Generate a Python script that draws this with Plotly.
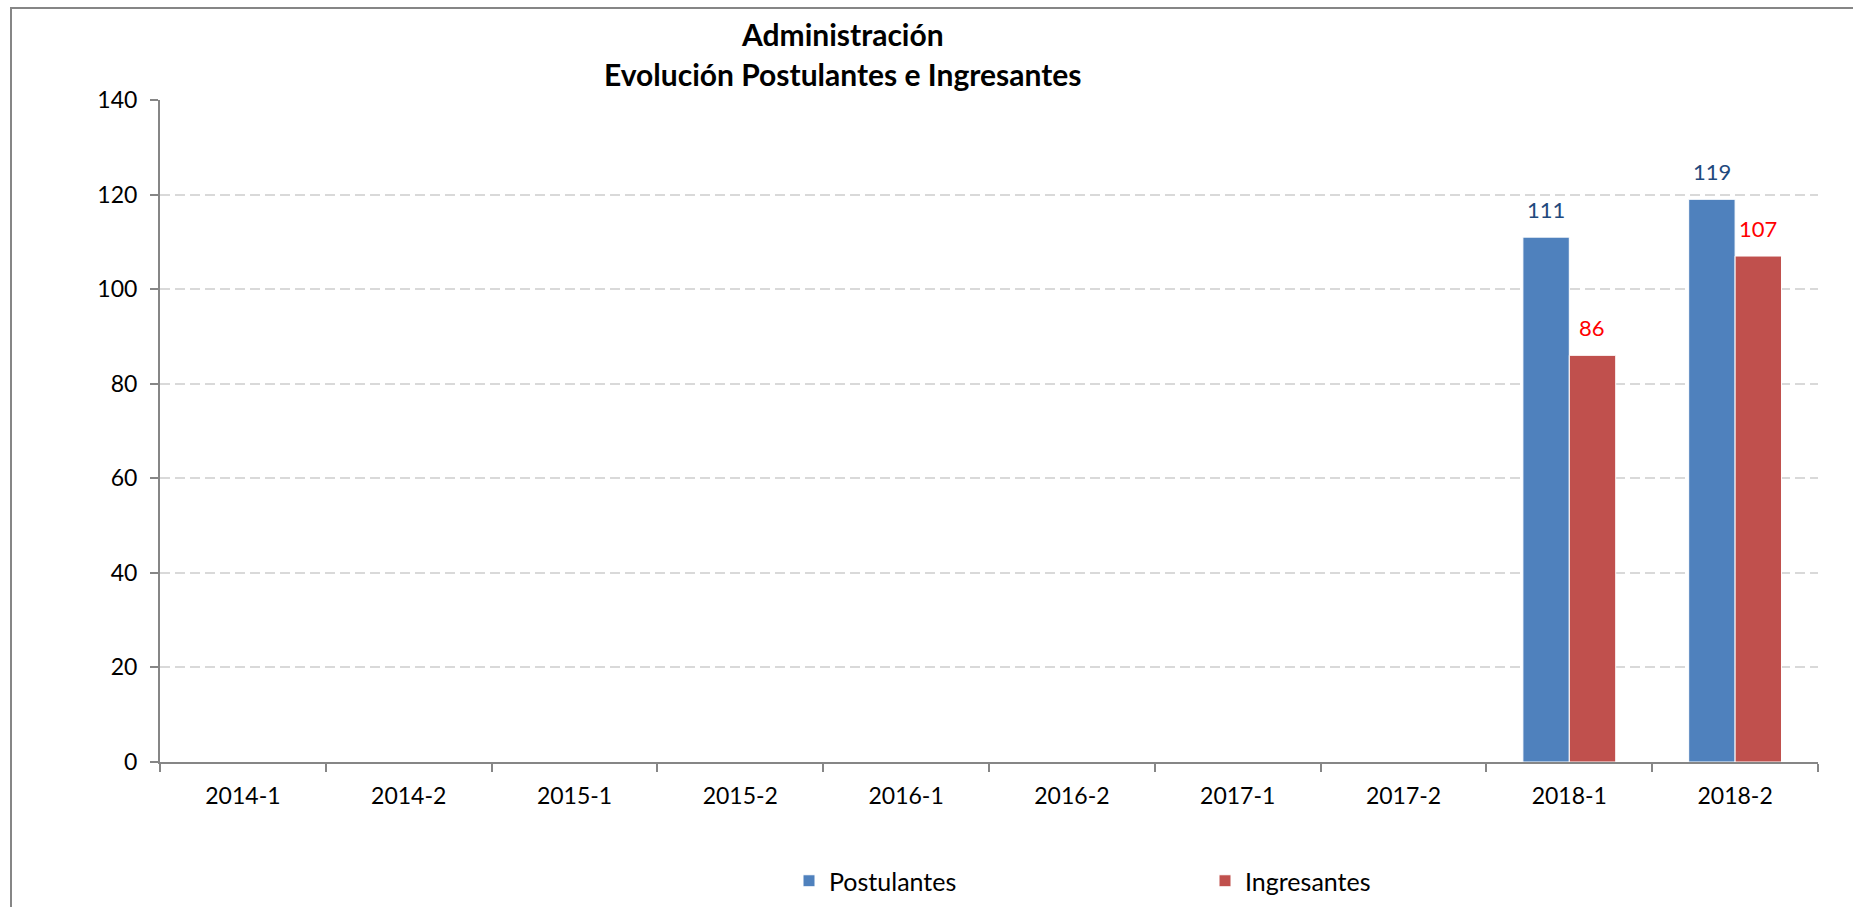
import plotly.graph_objects as go

categories = ["2014-1", "2014-2", "2015-1", "2015-2", "2016-1", "2016-2",
              "2017-1", "2017-2", "2018-1", "2018-2"]
postulantes = [None, None, None, None, None, None, None, None, 111, 119]
ingresantes = [None, None, None, None, None, None, None, None, 86, 107]
title_lines = ["Administración", "Evolución Postulantes e Ingresantes"]

FONT = "Lato"
BLUE = "#4F81BD"
RED = "#C0504D"
AXIS = "#868686"

fig = go.Figure()
fig.add_trace(go.Bar(name="Postulantes", x=categories, y=postulantes,
                     marker=dict(color=BLUE, line=dict(color="white", width=1))))
fig.add_trace(go.Bar(name="Ingresantes", x=categories, y=ingresantes,
                     marker=dict(color=RED, line=dict(color="white", width=1))))

annotations = []
for series, shift, col in ((postulantes, -23, "#1F497D"), (ingresantes, 23, "#FF0000")):
    for c, v in zip(categories, series):
        if v is None:
            continue
        annotations.append(dict(x=c, y=v, xref="x", yref="y", text=str(v),
                                showarrow=False, xshift=shift, yshift=28,
                                yanchor="middle", xanchor="center",
                                font=dict(family=FONT, size=22, color=col)))

annotations.append(dict(text="<b>" + title_lines[0] + "</b>", xref="paper", yref="paper",
                        x=(842 - 160) / 1658, y=(762 - 34) / 662, showarrow=False,
                        xanchor="center", yanchor="middle",
                        font=dict(family=FONT, size=30, color="black")))
annotations.append(dict(text="<b>" + title_lines[1] + "</b>", xref="paper", yref="paper",
                        x=(842 - 160) / 1658, y=(762 - 74) / 662, showarrow=False,
                        xanchor="center", yanchor="middle",
                        font=dict(family=FONT, size=30, color="black")))

fig.update_layout(
    width=1853, height=907,
    margin=dict(l=160, r=35, t=100, b=145, autoexpand=False),
    paper_bgcolor="white", plot_bgcolor="white",
    barmode="group", bargap=0.44, bargroupgap=0,
    font=dict(family=FONT, size=23, color="black"),
    showlegend=True,
    legend=dict(orientation="h", x=(789 - 160) / 1658, xanchor="left",
                y=(762 - 881) / 662, yanchor="middle",
                entrywidth=371, entrywidthmode="pixels",
                font=dict(family=FONT, size=25, color="black"),
                itemwidth=30, traceorder="normal"),
    annotations=annotations,
    shapes=[dict(type="rect", xref="paper", yref="paper",
                 x0=(11 - 160) / 1658, x1=1.2, y0=-0.5, y1=(762 - 8) / 662,
                 line=dict(color=AXIS, width=2), fillcolor="rgba(0,0,0,0)", layer="below")],
)

fig.update_xaxes(type="category", showline=True, linecolor=AXIS, linewidth=2,
                 ticks="outside", tickson="boundaries", ticklen=8, tickcolor=AXIS,
                 tickwidth=2, showgrid=False, tickfont=dict(size=23), ticklabelstandoff=12,
                 automargin=False)
fig.update_yaxes(range=[0, 140], dtick=20, showline=True, linecolor=AXIS, linewidth=2,
                 ticks="outside", ticklen=8, tickcolor=AXIS, tickwidth=2,
                 showgrid=True, gridcolor="#D9D9D9", gridwidth=2, griddash="10px,5px",
                 zeroline=False, tickfont=dict(size=23), ticklabelstandoff=8,
                 automargin=False)

fig.write_html("out.html", config={"displayModeBar": False},
               post_script="document.body.style.margin='0';")
